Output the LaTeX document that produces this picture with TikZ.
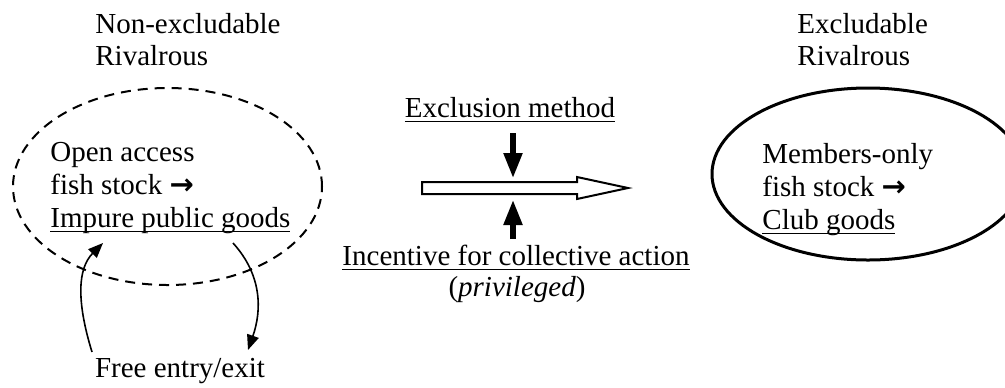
\documentclass[tikz,border=0pt]{standalone}
\usepackage{fontspec}
\setmainfont{Liberation Serif}
\newfontfamily\arrowfont{DejaVu Sans}
\usetikzlibrary{arrows.meta,shapes.geometric}
% underline set at a fixed distance below the baseline, through descenders
\newcommand\wordul[1]{\setbox0\hbox{#1}\rlap{\rule[-2.6pt]{\wd0}{0.7pt}}\box0}
\newcommand\fatarrow{{\arrowfont\bfseries →}}
\begin{document}
\begin{tikzpicture}[x=0.5pt,y=-0.5pt,
  txt/.style={inner sep=0pt,font=\fontsize{14.5}{16}\selectfont},
  lefttxt/.style={txt,anchor=base west},
  midtxt/.style={txt,anchor=base},
  pushtip/.style={line width=2.6pt,-{Triangle[length=12.5pt,width=9pt]}},
  flowtip/.style={line width=0.8pt,-{Triangle[length=7.5pt,width=6pt]}}]
\useasboundingbox (0,0) rectangle (1005,387);

% the two regimes
\node[ellipse,draw,dashed,line width=1pt,dash pattern=on 5pt off 3.5pt,
      minimum width=154.5pt,minimum height=98.5pt,inner sep=0pt] (open) at (167.5,186.5) {};
\node[ellipse,draw,line width=1.5pt,
      minimum width=156pt,minimum height=86pt,inner sep=0pt] (club) at (868,174) {};

% column headings
\node[lefttxt] (nonex) at (95,33) {Non-excludable};
\node[lefttxt] (rivL)  at (95,65) {Rivalrous};
\node[lefttxt] (ex)    at (797,33) {Excludable};
\node[lefttxt] (rivR)  at (797,65) {Rivalrous};

% open-access side
\node[lefttxt] (oa)   at (50,161) {Open access};
\node[lefttxt] (fsL)  at (50,194) {fish stock \fatarrow};
\node[lefttxt] (imp)  at (50,227) {\wordul{Impure public goods}};
\node[midtxt]  (free) at (180,377) {Free entry/exit};

% members-only side
\node[lefttxt] (mo)   at (762,163) {Members-only};
\node[lefttxt] (fsR)  at (762,196) {fish stock \fatarrow};
\node[lefttxt] (cg)   at (762,229) {\wordul{Club goods}};

% transition in the middle
\node[midtxt] (excl) at (510,117) {\wordul{Exclusion method}};
\node[midtxt] (inc)  at (516,265) {\wordul{Incentive for collective action}};
\node[midtxt] (priv) at (517,296) {(\textit{privileged})};

\draw[line width=1pt,line join=miter,fill=white]
  (422,182) -- (577,182) -- (577,177) -- (628,188) -- (577,199) -- (577,194) -- (422,194) -- cycle;

\coordinate (exclTop) at (513,133);
\coordinate (exclTip) at (513,178);
\coordinate (incBot)  at (513,239);
\coordinate (incTip)  at (513,200);
\draw[pushtip] (exclTop) -- (exclTip);
\draw[pushtip] (incBot) -- (incTip);

% entry and exit flows
\coordinate (entryStart) at (92,352);
\coordinate (entryTip)   at (103,243);
\coordinate (exitStart)  at (233,243);
\coordinate (exitTip)    at (248,350);
\draw[flowtip] (entryStart) .. controls (76,300) and (78,268) .. (entryTip);
\draw[flowtip] (exitStart) .. controls (262,275) and (262,310) .. (exitTip);
\end{tikzpicture}
\end{document}
